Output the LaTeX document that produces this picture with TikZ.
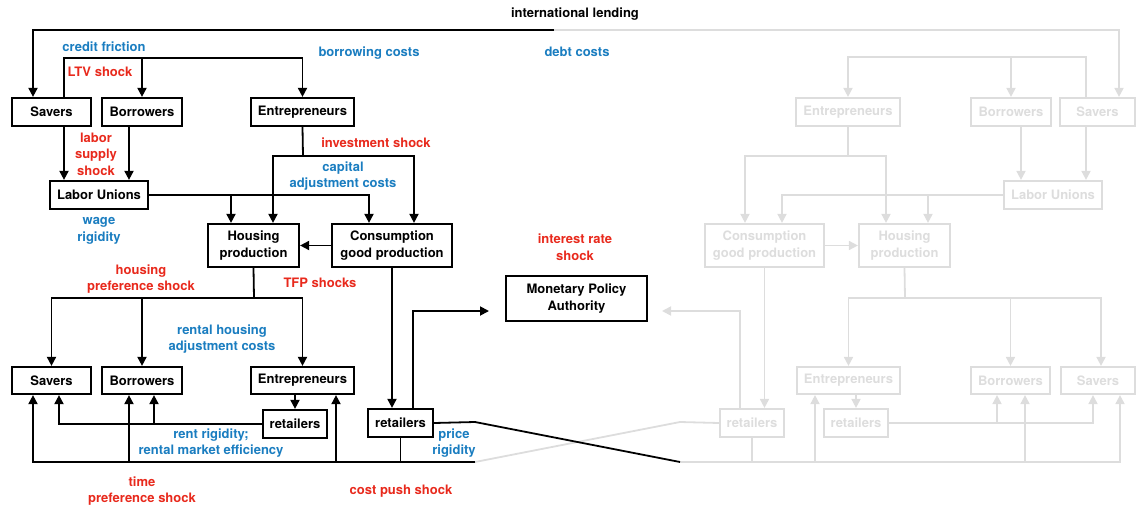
\documentclass[tikz,border=0pt]{standalone}
\usepackage{fontspec}
\setmainfont{TeX Gyre Heros}
\usetikzlibrary{arrows.meta}
\definecolor{shock}{RGB}{232,41,28}
\definecolor{friction}{RGB}{26,125,192}
\definecolor{faded}{RGB}{221,221,221}

\begin{document}
\begin{tikzpicture}[x=1pt,y=-1pt,
  font=\fontsize{13}{16.5}\selectfont\bfseries,
  line width=1.8pt,
  agent/.style={draw,line width=2.2pt,align=center,inner sep=0pt,minimum height=28pt},
  sector/.style={agent,minimum height=43pt},
  ghost/.style={draw=faded,text=faded},
  shk/.style={text=shock,align=center},
  fric/.style={text=friction,align=center},
  tip/.style={-{Triangle[length=9pt,width=9pt]}}]
  \useasboundingbox (0,0) rectangle (1137,508);
  \foreach \x in {33,59,64,129,154,231,273,336,369,413,414,475,680,740,745,782,815,886,928,997,1021,1025,1086,1093,1101,1119,1120}
    \coordinate (x\x) at (\x,0);

  \node[agent,minimum width=79pt] (sav1) at (51.5,112) {Savers};
  \node[agent,minimum width=80pt] (bor1) at (142,112) {Borrowers};
  \node[agent,minimum width=103pt] (ent1) at (302.5,112) {Entrepreneurs};
  \node[agent,minimum width=98pt] (lu) at (99,195) {Labor Unions};
  \node[sector,minimum width=91pt] (hp) at (253.5,245.5) {Housing\\production};
  \node[sector,minimum width=120pt] (cgp) at (392,245.5) {Consumption\\good production};
  \node[agent,minimum width=79pt,minimum height=27pt] (sav2) at (51.5,380.5) {Savers};
  \node[agent,minimum width=80pt,minimum height=27pt] (bor2) at (142,380.5) {Borrowers};
  \node[agent,minimum width=103pt,minimum height=27pt] (ent2) at (302.5,380.5) {Entrepreneurs};
  \node[agent,minimum width=64pt] (ret1) at (295,424) {retailers};
  \node[agent,minimum width=65pt] (ret2) at (400.5,423) {retailers};
  \node[sector,minimum width=141pt,minimum height=45pt] (mpa) at (576.5,298.5) {Monetary Policy\\Authority};

  \node[agent,ghost,minimum width=104pt] (gent1) at (848,112) {Entrepreneurs};
  \node[agent,ghost,minimum width=80pt] (gbor1) at (1011,112) {Borrowers};
  \node[agent,ghost,minimum width=75pt] (gsav1) at (1097.5,112) {Savers};
  \node[agent,ghost,minimum width=98pt] (glu) at (1053,195) {Labor Unions};
  \node[sector,ghost,minimum width=119pt] (gcgp) at (764.5,245.5) {Consumption\\good production};
  \node[sector,ghost,minimum width=91pt] (ghp) at (904.5,245.5) {Housing\\production};
  \node[agent,ghost,minimum width=103pt,minimum height=27pt] (gent2) at (848.5,380.5) {Entrepreneurs};
  \node[agent,ghost,minimum width=79pt,minimum height=27pt] (gbor2) at (1010.5,380.5) {Borrowers};
  \node[agent,ghost,minimum width=74pt,minimum height=27pt] (gsav2) at (1098,380.5) {Savers};
  \node[agent,ghost,minimum width=64pt] (gret1) at (752,423) {retailers};
  \node[agent,ghost,minimum width=64pt] (gret2) at (856,423) {retailers};

  \coordinate (ilend) at (554,30);
  \coordinate (cred) at (142,58);
  \coordinate (gcred) at (1011,57);
  \coordinate (inv) at (303,156);
  \coordinate (ginv) at (848,156);
  \coordinate (hsp) at (254,298);
  \coordinate (ghsp) at (905,298);
  \coordinate (cp) at (401,462);
  \coordinate (gcp) at (753,462);
  \coordinate (xa) at (475,422);
  \coordinate (xb) at (680,422);
  \coordinate (mpin) at (489,311);
  \coordinate (gmpin) at (662,311);

  \begin{scope}[faded]
    \draw[tip] (ilend) -| (gsav1.north -| x1119);
    \draw[tip] (gsav1.north -| x1086) |- (gcred) -| (gent1.north);
    \draw[tip] (gcred) -- (gbor1.north);
    \draw[tip] (gsav1.south -| x1086) -- (glu.north -| x1086);
    \draw[tip] (gbor1.south -| x1021) -- (glu.north -| x1021);
    \draw (gent1.south) -- (ginv);
    \draw[tip] (ginv) -| (gcgp.north -| x745);
    \draw[tip] (ginv) -| (ghp.north -| x886);
    \draw[tip] (glu.west) -| (gcgp.north -| x782);
    \draw[tip] (glu.west -| x928) -- (ghp.north -| x928);
    \draw[tip] (gcgp.east) -- (ghp.west);
    \draw (ghp.south) -- (ghsp);
    \draw[tip] (ghsp) -| (gent2.north);
    \draw[tip] (ghsp) -| (gsav2.north -| x1101);
    \draw[tip] (gbor2.north |- ghsp) -- (gbor2.north);
    \draw[tip] (gent2.south -| gret2.north) -- (gret2.north);
    \draw[tip] (gret2.east) -| (gsav2.south -| x1093);
    \draw[tip] (gret2.east -| x997) -- (gbor2.south -| x997);
    \draw[tip] (gcgp.south) -- (gcgp.south |- gret1.north);
    \draw[tip] (gret1.north -| x740) |- (gmpin);
    \draw (gret1.south) -- (gret1.south |- gcp);
    \draw[tip] (cp -| x680) -| (gsav2.south -| x1120);
    \draw[tip] (gcp -| x815) -- (gent2.south -| x815);
    \draw[tip] (gcp -| x1025) -- (gbor2.south -| x1025);
    \draw (cp -| x475) -- (xb) -- (gret1.west);
  \end{scope}

  \draw[tip] (ilend) -| (sav1.north -| x33);
  \draw[tip] (sav1.north -| x64) |- (cred) -| (ent1.north);
  \draw[tip] (cred) -- (bor1.north);
  \draw[tip] (sav1.south -| x64) -- (lu.north -| x64);
  \draw[tip] (bor1.south -| x129) -- (lu.north -| x129);
  \draw (ent1.south) -- (inv);
  \draw[tip] (inv) -| (hp.north -| x273);
  \draw[tip] (inv) -| (cgp.north -| x414);
  \draw[tip] (lu.east) -| (cgp.north -| x369);
  \draw[tip] (lu.east -| x231) -- (hp.north -| x231);
  \draw[tip] (cgp.west) -- (hp.east);
  \draw (hp.south) -- (hsp);
  \draw[tip] (hsp) -| (sav2.north);
  \draw[tip] (hsp) -| (ent2.north);
  \draw[tip] (bor2.north |- hsp) -- (bor2.north);
  \draw[tip] (ent2.south -| ret1.north) -- (ret1.north);
  \draw[tip] (ret1.west) -| (sav2.south -| x59);
  \draw[tip] (ret1.west -| x154) -- (bor2.south -| x154);
  \draw[tip] (cgp.south) -- (cgp.south |- ret2.north);
  \draw[tip] (ret2.north -| x413) |- (mpin);
  \draw (ret2.south) -- (ret2.south |- cp);
  \draw[tip] (cp -| x475) -| (sav2.south -| x33);
  \draw[tip] (cp -| x129) -- (bor2.south -| x129);
  \draw[tip] (cp -| x336) -- (ent2.south -| x336);
  \draw (ret2.east) -- (xa) -- (cp -| x680);

  \node (lend) at (575,14) {international lending};
  \node[fric] (credfric) at (104,47) {credit friction};
  \node[shk] (ltv) at (100,72) {LTV shock};
  \node[fric] (borcost) at (369,53) {borrowing costs};
  \node[fric] (debtcost) at (577,52) {debt costs};
  \node[shk] (labshock) at (96,154) {labor\\supply\\shock};
  \node[shk] (invshock) at (376,143) {investment shock};
  \node[fric] (capcost) at (343,176) {capital\\adjustment costs};
  \node[fric] (wagerig) at (99,231) {wage\\rigidity};
  \node[shk] (irshock) at (575,247) {interest rate\\shock};
  \node[shk] (houshock) at (141,279) {housing\\preference shock};
  \node[shk] (tfp) at (320,283) {TFP shocks};
  \node[fric] (rentadj) at (222,339) {rental housing\\adjustment costs};
  \node[fric] (rentrig) at (211,443) {rent rigidity;\\rental market efficiency};
  \node[fric] (pricerig) at (454,443) {price\\rigidity};
  \node[shk] (timeshock) at (142,491) {time\\preference shock};
  \node[shk] (cpshock) at (401,491) {cost push shock};
\end{tikzpicture}
\end{document}
